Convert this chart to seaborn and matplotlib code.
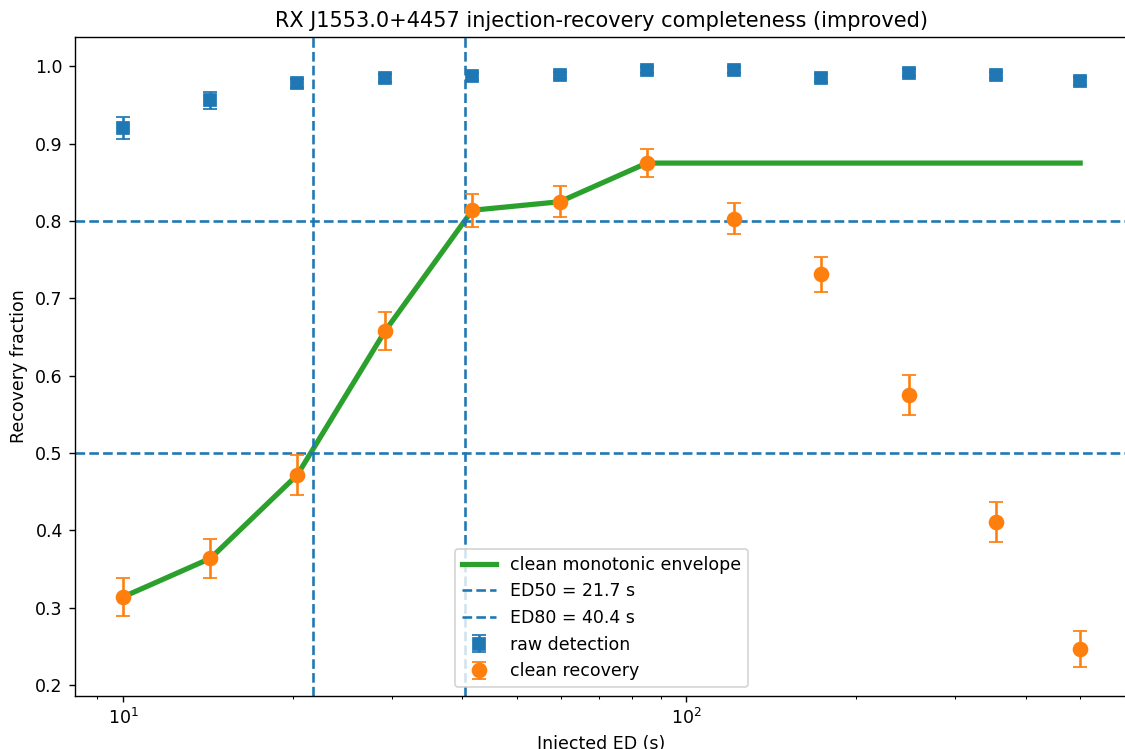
import matplotlib
matplotlib.use("Agg")
import matplotlib.pyplot as plt
import seaborn as sns
import pandas as pd

# ---- data ----
injected_ed = [10.0, 14.3, 20.4, 29.2, 41.7, 59.6, 85.1, 121.6, 173.7, 248.1, 354.4, 500.0]
raw_detection = [0.920, 0.956, 0.978, 0.985, 0.987, 0.989, 0.995, 0.995, 0.985, 0.992, 0.989, 0.981]
raw_err = [0.014, 0.011, 0.006, 0.005, 0.005, 0.004, 0.004, 0.004, 0.005, 0.004, 0.004, 0.005]
clean_recovery = [0.314, 0.364, 0.472, 0.658, 0.814, 0.825, 0.875, 0.803, 0.731, 0.575, 0.411, 0.247]
clean_err = [0.024, 0.025, 0.026, 0.025, 0.021, 0.020, 0.018, 0.020, 0.023, 0.026, 0.026, 0.023]
envelope = [0.314, 0.364, 0.472, 0.658, 0.814, 0.825, 0.875, 0.875, 0.875, 0.875, 0.875, 0.875]
ed50 = 21.7
ed80 = 40.4
title = "RX J1553.0+4457 injection-recovery completeness (improved)"

df = pd.DataFrame({"ed": injected_ed, "env": envelope})

fig = plt.figure(figsize=(9, 749 / 125), dpi=125)
ax = fig.add_axes([75 / 1125, 53 / 749, 1053 / 1125, 659 / 749])

sns.lineplot(data=df, x="ed", y="env", ax=ax, color="C2", linewidth=3,
             label="clean monotonic envelope")
ax.axvline(ed50, color="C0", linestyle="--", linewidth=1.5, label=f"ED50 = {ed50} s")
ax.axvline(ed80, color="C0", linestyle="--", linewidth=1.5, label=f"ED80 = {ed80} s")
ax.axhline(0.5, color="C0", linestyle="--", linewidth=1.5)
ax.axhline(0.8, color="C0", linestyle="--", linewidth=1.5)

ax.errorbar(injected_ed, raw_detection, yerr=raw_err, fmt="s", color="C0",
            markersize=7, capsize=4, label="raw detection")
ax.errorbar(injected_ed, clean_recovery, yerr=clean_err, fmt="o", color="C1",
            markersize=8, capsize=4, label="clean recovery")

ax.set_xscale("log")
ax.set_xlim(8.22, 608)
ax.set_ylim(0.186, 1.038)
ax.set_xlabel("Injected ED (s)")
ax.set_ylabel("Recovery fraction")
ax.set_title(title)
ax.legend(loc="lower center")

fig.savefig("out.png", dpi=125)
